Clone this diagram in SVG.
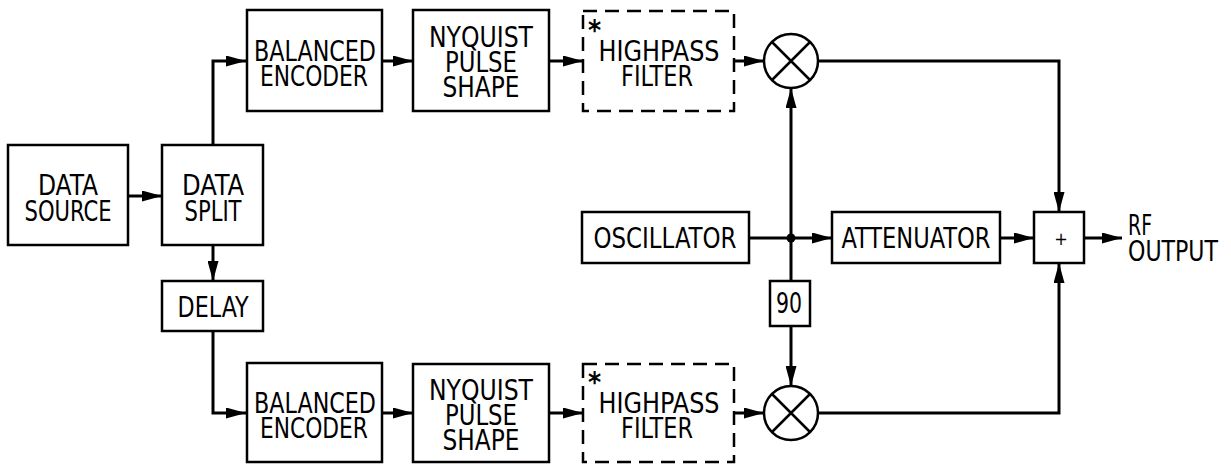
<svg xmlns="http://www.w3.org/2000/svg" width="1231" height="464" viewBox="0 0 1231 464">
<defs>
<style>
.box{fill:#fff;stroke:#000;stroke-width:2.5}
.dash{fill:none;stroke:#000;stroke-width:2.5;stroke-dasharray:14 8}
.wire{fill:none;stroke:#000;stroke-width:3}
.t{font-family:"DejaVu Sans Condensed","DejaVu Sans","Liberation Sans",sans-serif;font-size:28px;fill:#000;text-anchor:middle}
.s{text-anchor:start}
.ast{font-size:28px;font-weight:bold}
</style>
<marker id="arr" markerUnits="userSpaceOnUse" markerWidth="20" markerHeight="11" refX="20" refY="5.5" orient="auto">
<path d="M0,0 L20,5.5 L0,11 z" fill="#000"/>
</marker>
</defs>
<rect width="1231" height="464" fill="#fff"/>

<g id="connectors">
<path class="wire" d="M128,196 H162" marker-end="url(#arr)"/>
<path class="wire" d="M213,145 V61 H246" marker-end="url(#arr)"/>
<path class="wire" d="M213,245 V281" marker-end="url(#arr)"/>
<path class="wire" d="M213,331 V413 H246" marker-end="url(#arr)"/>
<path class="wire" d="M382,61 H413" marker-end="url(#arr)"/>
<path class="wire" d="M382,413 H413" marker-end="url(#arr)"/>
<path class="wire" d="M549,61 H583" marker-end="url(#arr)"/>
<path class="wire" d="M549,413 H583" marker-end="url(#arr)"/>
<path class="wire" d="M734,61 H764" marker-end="url(#arr)"/>
<path class="wire" d="M734,413 H764" marker-end="url(#arr)"/>
<path class="wire" d="M818,61 H1059 V212" marker-end="url(#arr)"/>
<path class="wire" d="M818,413 H1059 V263" marker-end="url(#arr)"/>
<path class="wire" d="M749,238 H832" marker-end="url(#arr)"/>
<path class="wire" d="M791,238 V88" marker-end="url(#arr)"/>
<path class="wire" d="M791,238 V281"/>
<path class="wire" d="M791,326 V386" marker-end="url(#arr)"/>
<path class="wire" d="M1000,238 H1034" marker-end="url(#arr)"/>
<path class="wire" d="M1084,238 H1122" marker-end="url(#arr)"/>
<circle cx="791" cy="238" r="4.5" fill="#000"/>
</g>

<g id="data-source">
<rect class="box" x="8" y="145" width="120" height="100"/>
<text class="t"><tspan x="68" y="195" textLength="60" lengthAdjust="spacingAndGlyphs">DATA</tspan><tspan x="68" y="221" textLength="87" lengthAdjust="spacingAndGlyphs">SOURCE</tspan></text>
</g>

<g id="data-split">
<rect class="box" x="162" y="145" width="101" height="100"/>
<text class="t"><tspan x="213" y="195" textLength="62" lengthAdjust="spacingAndGlyphs">DATA</tspan><tspan x="213" y="221" textLength="57" lengthAdjust="spacingAndGlyphs">SPLIT</tspan></text>
</g>

<g id="delay">
<rect class="box" x="162" y="281" width="101" height="50"/>
<text class="t" x="213" y="317" textLength="71" lengthAdjust="spacingAndGlyphs">DELAY</text>
</g>

<g id="balanced-encoder-upper">
<rect class="box" x="247" y="10" width="135" height="101"/>
<text class="t"><tspan x="315" y="61" textLength="122" lengthAdjust="spacingAndGlyphs">BALANCED</tspan><tspan x="314" y="86" textLength="108" lengthAdjust="spacingAndGlyphs">ENCODER</tspan></text>
</g>

<g id="balanced-encoder-lower">
<rect class="box" x="247" y="363" width="135" height="99"/>
<text class="t"><tspan x="315" y="413" textLength="122" lengthAdjust="spacingAndGlyphs">BALANCED</tspan><tspan x="314" y="438" textLength="108" lengthAdjust="spacingAndGlyphs">ENCODER</tspan></text>
</g>

<g id="nyquist-upper">
<rect class="box" x="413" y="10" width="136" height="101"/>
<text class="t"><tspan x="481" y="47" textLength="104" lengthAdjust="spacingAndGlyphs">NYQUIST</tspan><tspan x="481" y="72" textLength="72" lengthAdjust="spacingAndGlyphs">PULSE</tspan><tspan x="481" y="97" textLength="77" lengthAdjust="spacingAndGlyphs">SHAPE</tspan></text>
</g>

<g id="nyquist-lower">
<rect class="box" x="413" y="364" width="136" height="98"/>
<text class="t"><tspan x="481" y="400" textLength="104" lengthAdjust="spacingAndGlyphs">NYQUIST</tspan><tspan x="481" y="425" textLength="72" lengthAdjust="spacingAndGlyphs">PULSE</tspan><tspan x="481" y="450" textLength="77" lengthAdjust="spacingAndGlyphs">SHAPE</tspan></text>
</g>

<g id="highpass-upper">
<rect class="dash" x="583" y="11" width="151" height="100"/>
<text class="t s ast" x="588" y="40">*</text>
<text class="t"><tspan x="659" y="61" textLength="121" lengthAdjust="spacingAndGlyphs">HIGHPASS</tspan><tspan x="657" y="86" textLength="72" lengthAdjust="spacingAndGlyphs">FILTER</tspan></text>
</g>

<g id="highpass-lower">
<rect class="dash" x="583" y="364" width="151" height="98"/>
<text class="t s ast" x="588" y="392">*</text>
<text class="t"><tspan x="659" y="413" textLength="121" lengthAdjust="spacingAndGlyphs">HIGHPASS</tspan><tspan x="657" y="438" textLength="72" lengthAdjust="spacingAndGlyphs">FILTER</tspan></text>
</g>

<g id="mixer-upper">
<circle class="box" cx="791" cy="61" r="27"/>
<path class="box" d="M772,42 L810,80 M810,42 L772,80"/>
</g>

<g id="mixer-lower">
<circle class="box" cx="791" cy="413" r="27"/>
<path class="box" d="M772,394 L810,432 M810,394 L772,432"/>
</g>

<g id="oscillator">
<rect class="box" x="582" y="212" width="167" height="51"/>
<text class="t" x="665" y="248" textLength="143" lengthAdjust="spacingAndGlyphs">OSCILLATOR</text>
</g>

<g id="phase-90">
<rect class="box" x="770" y="281" width="40" height="45"/>
<text class="t" x="789" y="313" textLength="26" lengthAdjust="spacingAndGlyphs">90</text>
</g>

<g id="attenuator">
<rect class="box" x="832" y="212" width="168" height="51"/>
<text class="t" x="916" y="248" textLength="149" lengthAdjust="spacingAndGlyphs">ATTENUATOR</text>
</g>

<g id="summer">
<rect class="box" x="1034" y="212" width="50" height="51"/>
<text class="t" x="1061" y="245" style="font-size:18px">+</text>
</g>

<g id="rf-output">
<text class="t s"><tspan x="1128" y="235" textLength="24" lengthAdjust="spacingAndGlyphs">RF</tspan><tspan x="1128" y="261" textLength="90" lengthAdjust="spacingAndGlyphs">OUTPUT</tspan></text>
</g>
</svg>
